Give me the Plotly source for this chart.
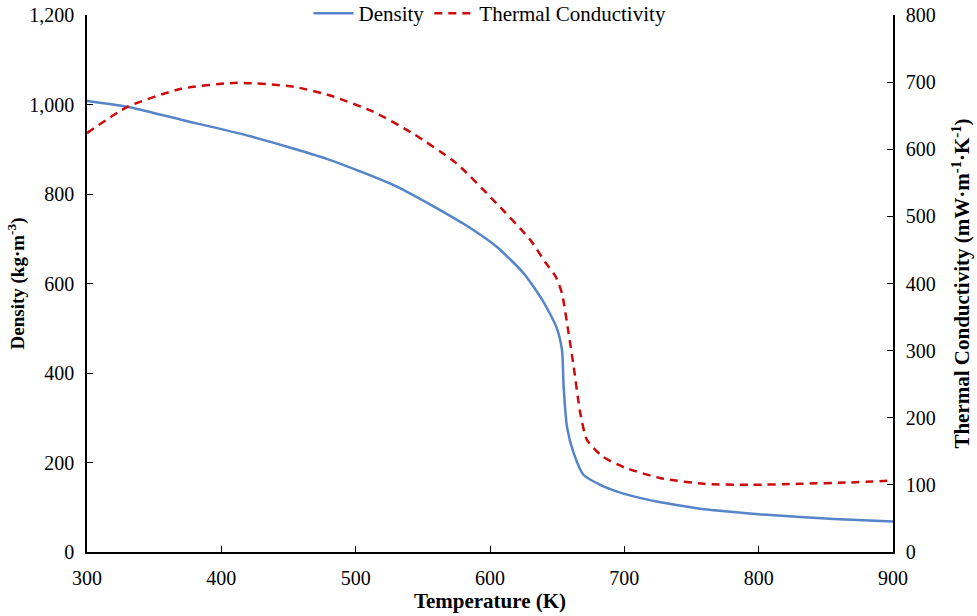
import plotly.graph_objects as go

# Density vs temperature
temp_density = [300, 330, 370, 419, 479, 531, 580, 605, 625, 639, 649.4, 653.6, 654.8,
                657.3, 662.3, 669.7, 682, 690, 700, 727, 754, 771, 806, 856, 900]
density = [1008, 995, 966, 931, 878, 816, 734, 682, 623, 563, 503, 451, 370,
           280, 221, 172, 150, 140, 130, 111, 98, 92, 83, 74, 68]

# Thermal conductivity vs temperature
temp_cond = [300, 330, 370, 412, 454, 481, 513, 543, 575, 605, 630, 641, 649,
             653.6, 658.5, 662.3, 667.2, 672.2, 684, 700, 727, 759, 794, 831, 868, 900]
conductivity = [624, 663, 690, 699, 693, 680, 656, 623, 579, 519, 465, 432, 410,
                385, 326, 276, 207, 167, 142, 126, 110, 101.6, 100, 101.6, 103.6, 106.5]

x_ticks = [300, 400, 500, 600, 700, 800, 900]
density_ticks = [0, 200, 400, 600, 800, 1000, 1200]
cond_ticks = [0, 100, 200, 300, 400, 500, 600, 700, 800]

FONT = "Liberation Serif, Times New Roman, serif"

fig = go.Figure()
fig.add_trace(go.Scatter(
    x=temp_density, y=density, name="Density", mode="lines",
    line=dict(color="#5585C8", width=2.5, shape="spline", smoothing=0.6), yaxis="y"))
fig.add_trace(go.Scatter(
    x=temp_cond, y=conductivity, name="Thermal Conductivity", mode="lines",
    line=dict(color="#CC0A0A", width=2.5, dash="8px,6px", shape="spline", smoothing=0.6),
    yaxis="y2"))

axis_common = dict(
    showline=True, linecolor="black", linewidth=1.5,
    ticks="inside", ticklen=6, tickcolor="black", tickwidth=1.2,
    showgrid=False, zeroline=False, ticklabelstandoff=7, automargin=False,
    tickfont=dict(family=FONT, size=20, color="black"),
)

fig.update_layout(
    width=977, height=616,
    margin=dict(l=87, r=84, t=15, b=64, autoexpand=False),
    paper_bgcolor="white", plot_bgcolor="white",
    font=dict(family=FONT, size=20, color="black"),
    xaxis=dict(
        range=[300, 900], tickvals=x_ticks,
        title=dict(text="<b>Temperature (K)</b>", font=dict(family=FONT, size=21), standoff=4),
        **axis_common),
    yaxis=dict(
        range=[0, 1200], tickvals=density_ticks, tickformat=",",
        title=dict(text="<b>Density (kg·m<sup>-3</sup>)</b>", font=dict(family=FONT, size=19), standoff=0),
        **axis_common),
    yaxis2=dict(
        range=[0, 800], tickvals=cond_ticks, overlaying="y", side="right",
        title=dict(text="<b>Thermal Conductivity (mW·m<sup>-1</sup>·K<sup>-1</sup>)</b>",
                   font=dict(family=FONT, size=21), standoff=20),
        **axis_common),
    legend=dict(
        orientation="h", x=0.5, xanchor="center", y=1.041, yanchor="top",
        font=dict(family=FONT, size=21, color="black"),
        bgcolor="rgba(255,255,255,0)", itemwidth=40, tracegroupgap=0),
    showlegend=True,
)

fig.write_html("out.html")
